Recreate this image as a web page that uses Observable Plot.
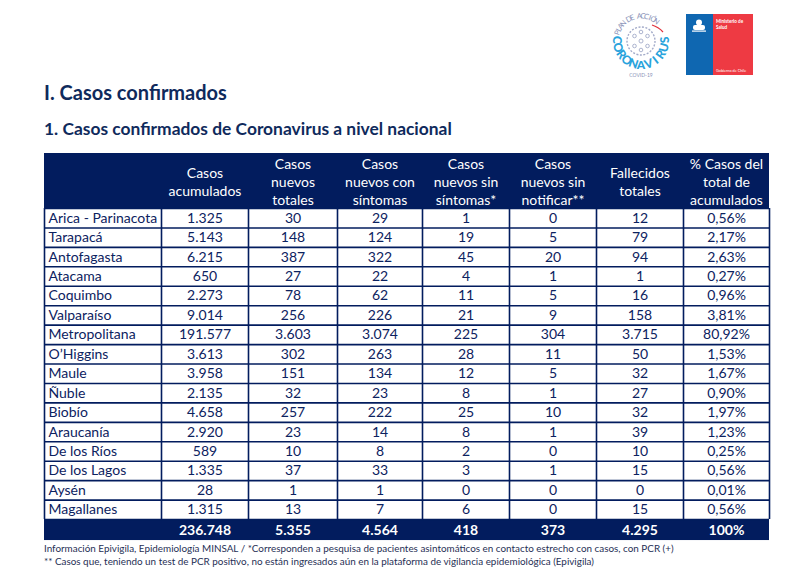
<!DOCTYPE html>
<html>
<head>
<meta charset="utf-8">
<script src="https://cdn.jsdelivr.net/npm/d3@7"></script>
<script src="https://cdn.jsdelivr.net/npm/@observablehq/plot@0.6"></script>
<style>
  html, body { margin: 0; padding: 0; background: #ffffff; }
  body { width: 808px; height: 573px; position: relative; overflow: hidden; font-family: Lato, "Open Sans", sans-serif; }
  .h1 { position: absolute; left: 44px; top: 80px; font-size: 20px; font-weight: 700; color: #0f2a5c; }
  .h2 { position: absolute; left: 44px; top: 118px; font-size: 17.4px; font-weight: 700; color: #0f2a5c; }
  .foot { position: absolute; left: 44px; font-size: 9.9px; color: #1f2f55; white-space: nowrap; }
  #chart { position: absolute; left: 0; top: 150px; }
  #logos { position: absolute; left: 600px; top: 0; }
</style>
</head>
<body>
<svg id="logos" width="208" height="90" viewBox="600 0 208 90">
  <g id="ringText"></g>
  <path d="M 652 25 A 24 24 0 0 1 663 32" stroke="#e0303a" stroke-width="1.2" fill="none"/>
  <circle cx="641" cy="41" r="14" fill="none" stroke="#a3abc9" stroke-width="1.4" stroke-dasharray="2 1.5"/>
  <g fill="none" stroke="#a3abc9" stroke-width="0.9">
    <circle cx="641" cy="41" r="2"/><circle cx="634.5" cy="36" r="1.8"/><circle cx="647.5" cy="36" r="1.8"/>
    <circle cx="634.5" cy="46" r="1.8"/><circle cx="647.5" cy="46" r="1.8"/><circle cx="641" cy="32" r="1.8"/><circle cx="641" cy="50" r="1.8"/>
  </g>
  <text x="641" y="77" font-family="Lato" font-size="5" fill="#8a93b8" text-anchor="middle">COVID-19</text>
  <rect x="686" y="14" width="27" height="61" fill="#0f67b1"/>
  <rect x="713" y="14" width="40" height="61" fill="#ee3a43"/>
  <g fill="#ffffff">
    <circle cx="699" cy="22.5" r="3"/>
    <rect x="693" y="25" width="12" height="5" rx="2"/>
    <rect x="692" y="30.5" width="14" height="1.2"/>
  </g>
  <text x="716" y="23" font-family="Lato" font-size="4.6" font-weight="700" fill="#ffffff">Ministerio de</text>
  <text x="716" y="28.5" font-family="Lato" font-size="4.6" font-weight="700" fill="#ffffff">Salud</text>
  <text x="716" y="72" font-family="Lato" font-size="3.8" fill="#ffffff">Gobierno de Chile</text>
</svg>

<div class="h1">I. Casos confirmados</div>
<div class="h2">1. Casos confirmados de Coronavirus a nivel nacional</div>
<div id="chart"></div>
<div class="foot" style="top:542px">Información Epivigila, Epidemiología MINSAL / *Corresponden a pesquisa de pacientes asintomáticos en contacto estrecho con casos, con PCR (+)</div>
<div class="foot" style="top:555px">** Casos que, teniendo un test de PCR positivo, no están ingresados aún en la plataforma de vigilancia epidemiológica (Epivigila)</div>

<script>
// ---- DATA ----
const headers = ["", "Casos\nacumulados", "Casos\nnuevos\ntotales", "Casos\nnuevos con\nsíntomas", "Casos\nnuevos sin\nsíntomas*", "Casos\nnuevos sin\nnotificar**", "Fallecidos\ntotales", "% Casos del\ntotal de\nacumulados"];
const regiones = ["Arica - Parinacota", "Tarapacá", "Antofagasta", "Atacama", "Coquimbo", "Valparaíso", "Metropolitana", "O’Higgins", "Maule", "Ñuble", "Biobío", "Araucanía", "De los Ríos", "De los Lagos", "Aysén", "Magallanes"];
const casosAcumulados = [1325, 5143, 6215, 650, 2273, 9014, 191577, 3613, 3958, 2135, 4658, 2920, 589, 1335, 28, 1315];
const nuevosTotales = [30, 148, 387, 27, 78, 256, 3603, 302, 151, 32, 257, 23, 10, 37, 1, 13];
const nuevosConSintomas = [29, 124, 322, 22, 62, 226, 3074, 263, 134, 23, 222, 14, 8, 33, 1, 7];
const nuevosSinSintomas = [1, 19, 45, 4, 11, 21, 225, 28, 12, 8, 25, 8, 2, 3, 0, 6];
const nuevosSinNotificar = [0, 5, 20, 1, 5, 9, 304, 11, 5, 1, 10, 1, 0, 1, 0, 0];
const fallecidos = [12, 79, 94, 1, 16, 158, 3715, 50, 32, 27, 32, 39, 10, 15, 0, 15];
const porcentaje = [0.56, 2.17, 2.63, 0.27, 0.96, 3.81, 80.92, 1.53, 1.67, 0.90, 1.97, 1.23, 0.25, 0.56, 0.01, 0.56];
const totales = [236748, 5355, 4564, 418, 373, 4295, 100];

// ---- LOGO RING LETTERS (decoration) ----
(function () {
  const g = d3.select("#ringText");
  const cx = 641, cy = 41;
  const put = (str, r, a0, a1, size, weight, color, outward) => {
    const chars = Array.from(str);
    const n = chars.length;
    chars.forEach((ch, i) => {
      if (ch === " ") return;
      const a = a0 + (a1 - a0) * (i + 0.5) / n;
      const rad = a * Math.PI / 180;
      const x = cx + r * Math.cos(rad), y = cy + r * Math.sin(rad);
      const rot = outward ? a + 90 : a - 90;
      g.append("text").attr("x", 0).attr("y", 0)
        .attr("transform", `translate(${x.toFixed(2)},${y.toFixed(2)}) rotate(${rot.toFixed(1)})`)
        .attr("text-anchor", "middle").attr("dominant-baseline", "central")
        .attr("font-family", "Lato").attr("font-size", size).attr("font-weight", weight)
        .attr("fill", color).text(ch);
    });
  };
  put("PLAN DE ACCIÓN", 25, 195, 312, 7.5, 400, "#8a93b8", true);
  put("CORONAVIRUS", 23.5, 192, -12, 12, 900, "#29a3dc", false);
})();

// ---- LAYOUT ----
const colWidths = [117, 87, 89, 85, 87, 87, 87, 86];
const colEdges = [0];
colWidths.forEach(w => colEdges.push(colEdges[colEdges.length - 1] + w));
const colMid = colWidths.map((w, i) => colEdges[i] + w / 2);
const headerH = 55, rowH = 19.44, totalH = 21;
const bodyTop = headerH, bodyBottom = headerH + rowH * regiones.length;
const tableBottom = bodyBottom + totalH;
const rowMid = i => bodyTop + rowH * (i + 0.5);

const loc = d3.formatLocale({decimal: ",", thousands: ".", grouping: [3], currency: ["$", ""]});
const fInt = loc.format(",d");
const fPct = v => loc.format(".2f")(v) + "%";

const series = [casosAcumulados, nuevosTotales, nuevosConSintomas, nuevosSinSintomas, nuevosSinNotificar, fallecidos, porcentaje];
const cells = [];
series.forEach((arr, j) => arr.forEach((v, i) => cells.push({col: j + 1, row: i, label: j === 6 ? fPct(v) : fInt(v)})));
const totalCells = totales.map((v, j) => ({col: j + 1, label: j === 6 ? v + "%" : fInt(v)}));
const headerCells = headers.map((h, j) => ({col: j, label: h})).filter(d => d.label);
const rowCells = regiones.map((r, i) => ({row: i, label: r}));
const hLines = d3.range(regiones.length + 1).map(i => bodyTop + rowH * i);

const navy = "#021c5e";
const ink = "#0c2260";

const chart = Plot.plot({
  width: 808,
  height: 392,
  margin: 0,
  x: {type: "linear", domain: [0, colEdges[colEdges.length - 1]], range: [44, 769], axis: null},
  y: {type: "linear", domain: [0, tableBottom], range: [3, 3 + tableBottom], axis: null},
  style: {fontFamily: "Lato, 'Open Sans', sans-serif", fontSize: "14px", background: "transparent", overflow: "visible"},
  marks: [
    Plot.rect([0], {x1: 0, x2: colEdges[colEdges.length - 1], y1: 0, y2: headerH, fill: navy}),
    Plot.rect([0], {x1: 0, x2: colEdges[colEdges.length - 1], y1: bodyBottom, y2: tableBottom, fill: navy}),
    Plot.ruleY(hLines, {y: d => d, x1: 0, x2: colEdges[colEdges.length - 1], stroke: navy, strokeWidth: 1.6}),
    Plot.ruleX(colEdges, {x: d => d, y1: bodyTop, y2: bodyBottom, stroke: navy, strokeWidth: 1.6}),
    Plot.text(headerCells, {x: d => colMid[d.col], y: headerH / 2, text: "label", fill: "#ffffff", lineHeight: 1.3, lineAnchor: "middle", fontSize: 14}),
    Plot.text(rowCells, {x: 0, y: d => rowMid(d.row), text: "label", textAnchor: "start", dx: 4, fill: ink, fontSize: 14}),
    Plot.text(cells, {x: d => colMid[d.col], y: d => rowMid(d.row), text: "label", fill: ink, fontSize: 14}),
    Plot.text(totalCells, {x: d => colMid[d.col], y: bodyBottom + totalH / 2, text: "label", fill: "#ffffff", fontWeight: 700, fontSize: 14})
  ]
});
document.getElementById("chart").appendChild(chart);
</script>
</body>
</html>
